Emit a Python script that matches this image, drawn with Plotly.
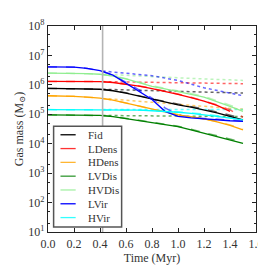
import plotly.graph_objects as go

# ---- data (log10 of gas mass in Msun) ----
t = [0.0, 0.1, 0.2, 0.3, 0.4, 0.5, 0.6, 0.7, 0.8, 0.9, 1.0, 1.1, 1.2, 1.3, 1.4, 1.5]
t_nofb = [0.42, 0.6, 0.8, 1.0, 1.2, 1.4, 1.5]
feedback_time = 0.42

models = ["Fid", "LDens", "HDens", "LVDis", "HVDis", "LVir", "HVir"]
colors = ["#000000", "#ff0000", "#ffa500", "#008000", "#90ee90", "#0000ff", "#00ffff"]

fid_solid   = [5.88, 5.88, 5.87, 5.86, 5.85, 5.80, 5.72, 5.62, 5.50, 5.40, 5.32, 5.24, 5.15, 5.05, 4.93, 4.81]
fid_dashed  = [5.88, 5.88, 5.87, 5.86, 5.85, 5.81, 5.73, 5.64, 5.53, 5.43, 5.35, 5.27, 5.18, 5.08, 4.97, 4.86]
fid_dotted  = [5.85, 5.83, 5.81, 5.79, 5.77, 5.74, 5.72]

ldens_solid  = [6.115, 6.115, 6.115, 6.11, 6.11, 6.08, 6.03, 5.96, 5.87, 5.78, 5.68, 5.57, 5.45, 5.30, 5.10, None]
ldens_dashed = [6.115, 6.115, 6.115, 6.11, 6.11, 6.08, 6.035, 5.965, 5.88, 5.79, 5.69, 5.58, 5.46, 5.32, 5.15, 4.90]
ldens_dotted = [6.11, 6.10, 6.09, 6.08, 6.07, 6.05, 6.04]

hdens_solid  = [5.63, 5.63, 5.61, 5.58, 5.55, 5.48, 5.38, 5.27, 5.16, 5.06, 4.98, 4.91, 4.84, 4.74, 4.62, 4.47]
hdens_dashed = [5.63, 5.63, 5.61, 5.58, 5.55, 5.485, 5.39, 5.28, 5.17, 5.07, 4.99, 4.92, 4.85, 4.76, 4.64, 4.50]
hdens_dotted = [5.54, 5.47, 5.40, 5.34, 5.27, 5.20, 5.17]

lvdis_solid  = [4.98, 4.98, 4.98, 4.97, 4.96, 4.92, 4.86, 4.79, 4.72, 4.65, 4.58, 4.47, 4.35, 4.24, 4.12, 4.01]
lvdis_dashed = [4.98, 4.98, 4.98, 4.97, 4.96, 4.925, 4.87, 4.80, 4.73, 4.66, 4.59, 4.49, 4.38, 4.27, 4.15, 4.05]
lvdis_dotted = [4.96, 4.95, 4.95, 4.94, 4.93, 4.92, 4.92]

hvdis_solid  = [6.40, 6.40, 6.39, 6.38, 6.36, 6.30, 6.20, 6.07, 5.95, 5.86, 5.78, 5.68, 5.58, 5.43, 5.27, 5.10]
hvdis_dashed = [6.40, 6.40, 6.39, 6.38, 6.36, 6.305, 6.21, 6.09, 5.97, 5.88, 5.80, 5.71, 5.61, 5.47, 5.31, 5.15]
hvdis_dotted = [6.36, 6.32, 6.28, 6.24, 6.20, 6.17, 6.15]

lvir_solid  = [6.61, 6.61, 6.60, 6.56, 6.48, 6.33, 6.05, 5.78, 5.50, 5.10, 4.93, 4.88, 4.84, 4.81, 4.78, 4.76]
lvir_dashed = [6.61, 6.61, 6.60, 6.56, 6.48, 6.34, 6.09, 5.83, 5.55, 5.22, 4.98, 4.90, 4.86, 4.83, 4.80, 4.78]
lvir_dotted = [6.47, 6.40, 6.31, 6.15, 5.90, 5.72, 5.63]

hvir_solid  = [5.16, 5.16, 5.16, 5.16, 5.16, 5.16, 5.15, 5.14, 5.12, 5.10, 5.07, 5.03, 4.99, 4.93, 4.87, 4.81]
hvir_dashed = [5.16, 5.16, 5.16, 5.16, 5.16, 5.16, 5.15, 5.14, 5.13, 5.11, 5.08, 5.05, 5.01, 4.96, 4.90, 4.84]
hvir_dotted = [5.16, 5.16, 5.16, 5.16, 5.16, 5.16, 5.16]

solid = [fid_solid, ldens_solid, hdens_solid, lvdis_solid, hvdis_solid, lvir_solid, hvir_solid]
dashed = [fid_dashed, ldens_dashed, hdens_dashed, lvdis_dashed, hvdis_dashed, lvir_dashed, hvir_dashed]
dotted = [fid_dotted, ldens_dotted, hdens_dotted, lvdis_dotted, hvdis_dotted, lvir_dotted, hvir_dotted]

ytick_vals = [1e1, 1e2, 1e3, 1e4, 1e5, 1e6, 1e7, 1e8]
ytick_text = ["10<sup>1</sup>", "10<sup>2</sup>", "10<sup>3</sup>", "10<sup>4</sup>",
              "10<sup>5</sup>", "10<sup>6</sup>", "10<sup>7</sup>", "10<sup>8</sup>"]


def lin(v):
    return [None if x is None else 10 ** x for x in v]


fig = go.Figure()

for i, m in enumerate(models):
    fig.add_trace(go.Scatter(x=t_nofb, y=lin(dotted[i]), mode="lines", showlegend=False,
                             opacity=0.6, line=dict(color=colors[i], width=1.5, dash="dot")))
for i, m in enumerate(models):
    fig.add_trace(go.Scatter(x=t, y=lin(dashed[i]), mode="lines", showlegend=False,
                             opacity=0.6, line=dict(color=colors[i], width=1.5, dash="dash")))
for i, m in enumerate(models):
    fig.add_trace(go.Scatter(x=t, y=lin(solid[i]), mode="lines", name=m, showlegend=False,
                             line=dict(color=colors[i], width=1.3)))

# vertical marker at the feedback time
fig.add_shape(type="line", xref="x", yref="paper", x0=feedback_time, x1=feedback_time,
              y0=0, y1=1, line=dict(color="#b4b4b4", width=1.6), layer="above")

font = "Liberation Serif, DejaVu Serif, serif"

# ---- hand-built compact legend (paper coordinates) ----
leg_x0, leg_x1, leg_y0, leg_y1 = 0.027, 0.354, 0.024, 0.513
leg_top_item, leg_step = 0.472, 0.0670
fig.add_shape(type="rect", xref="paper", yref="paper", x0=leg_x0, x1=leg_x1, y0=leg_y0, y1=leg_y1,
              fillcolor="white", line=dict(color="#555555", width=1.5), layer="above")
for i, m in enumerate(models):
    yy = leg_top_item - i * leg_step
    fig.add_shape(type="line", xref="paper", yref="paper", x0=0.060, x1=0.133, y0=yy, y1=yy,
                  line=dict(color=colors[i], width=1.3), opacity=0.8 if i not in (0, 5) else 1.0,
                  layer="above")
    fig.add_annotation(xref="paper", yref="paper", x=0.185, y=yy, text=m, showarrow=False,
                       xanchor="left", yanchor="middle",
                       font=dict(family=font, size=11, color="#333333"))

fig.update_layout(
    width=266, height=265,
    margin=dict(l=40, r=14, t=10, b=36),
    paper_bgcolor="white", plot_bgcolor="white",
    font=dict(family=font, size=12, color="#333333"),
    showlegend=False,
    xaxis=dict(range=[0, 1.6], dtick=0.2, tickformat=".1f",
               showgrid=False, zeroline=False,
               showline=True, linecolor="#222222", linewidth=1.3, mirror="ticks",
               ticks="inside", ticklen=4, tickcolor="#222222",
               title=dict(text="Time (Myr)", standoff=4, font=dict(size=12))),
    yaxis=dict(type="log", range=[1, 8], tickvals=ytick_vals, ticktext=ytick_text,
               showgrid=False, zeroline=False,
               showline=True, linecolor="#222222", linewidth=1.3, mirror="ticks",
               ticks="inside", ticklen=4, tickcolor="#222222",
               minor=dict(ticks="inside", ticklen=2, tickcolor="#222222", showgrid=False),
               title=dict(text="Gas mass (M<sub>⊙</sub>)", standoff=2, font=dict(size=12))),
)

fig.write_html("out.html")
